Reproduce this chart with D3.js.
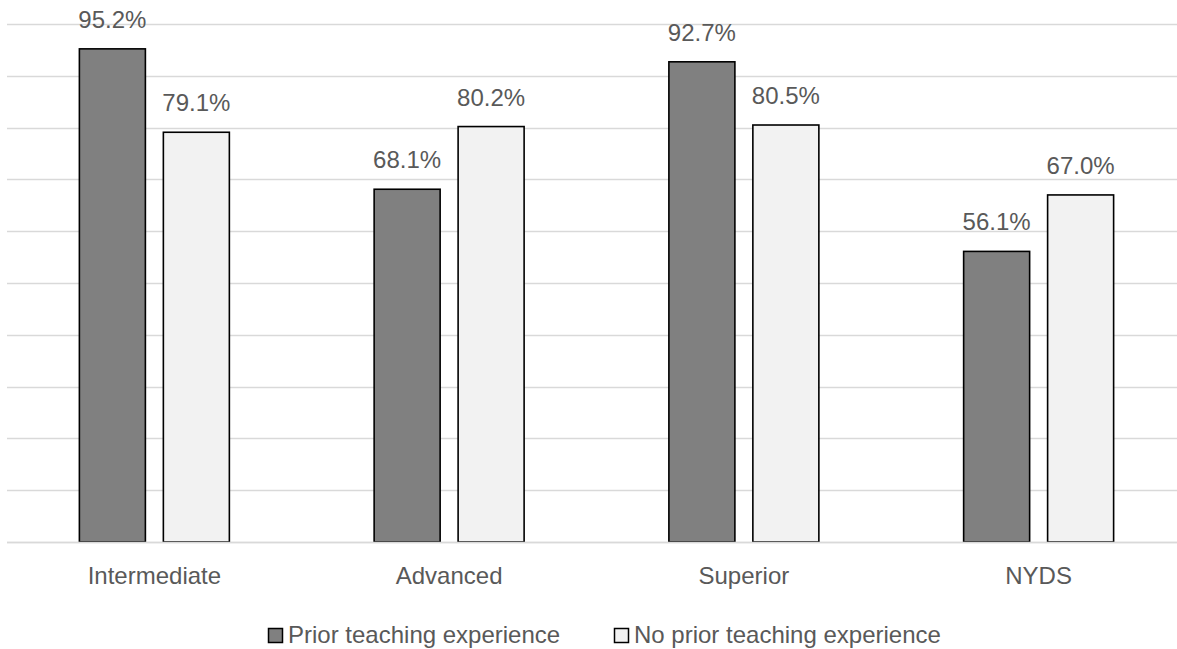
<!DOCTYPE html>
<html>
<head>
<meta charset="utf-8">
<script src="https://cdn.jsdelivr.net/npm/d3@7/dist/d3.min.js"></script>
<style>
  html, body { margin: 0; padding: 0; background: #ffffff; }
  svg { display: block; }
  text { font-family: "Liberation Sans", Arial, sans-serif; fill: #595959; }
</style>
</head>
<body>
<svg id="chart" width="1177" height="649"></svg>
<script>
// Share of teachers by proficiency level, split by prior teaching experience
const categories = ["Intermediate", "Advanced", "Superior", "NYDS"];
const seriesNames = ["Prior teaching experience", "No prior teaching experience"];
const priorExperience = [0.952, 0.681, 0.927, 0.561];
const noPriorExperience = [0.791, 0.802, 0.805, 0.670];
const gridTicks = [0, 0.1, 0.2, 0.3, 0.4, 0.5, 0.6, 0.7, 0.8, 0.9, 1.0];

const seriesValues = [priorExperience, noPriorExperience];
const fills = ["#808080", "#f2f2f2"];

const W = 1177, H = 649;
const plotLeft = 7, plotRight = 1186, plotTop = 24, plotBottom = 542;
const fontSize = "24px";

const svg = d3.select("#chart");

const x0 = d3.scaleBand()
  .domain(categories)
  .range([plotLeft, plotRight])
  .paddingInner(0)
  .paddingOuter(0);

const x1 = d3.scaleBand()
  .domain(seriesNames)
  .range([0, x0.bandwidth()])
  .paddingInner(0.214)
  .paddingOuter(0.862);

const y = d3.scaleLinear()
  .domain([0, 1])
  .range([plotBottom, plotTop]);

// horizontal gridlines
svg.append("g")
  .selectAll("line")
  .data(gridTicks)
  .join("line")
  .attr("x1", plotLeft)
  .attr("x2", W)
  .attr("y1", d => Math.round(y(d)) + 0.5)
  .attr("y2", d => Math.round(y(d)) + 0.5)
  .attr("stroke", "#d9d9d9")
  .attr("stroke-width", 1.5);

// bars
const rows = categories.map((c, i) => seriesNames.map((s, j) => ({
  category: c, series: s, value: seriesValues[j][i], fill: fills[j]
})));

const groups = svg.append("g")
  .selectAll("g")
  .data(rows)
  .join("g")
  .attr("transform", (d, i) => `translate(${x0(categories[i])},0)`);

groups.selectAll("rect")
  .data(d => d)
  .join("rect")
  .attr("x", d => x1(d.series))
  .attr("y", d => y(d.value))
  .attr("width", x1.bandwidth())
  .attr("height", d => y(0) - y(d.value))
  .attr("fill", d => d.fill)
  .attr("stroke", "#000000")
  .attr("stroke-width", 1.6);

// baseline drawn over bar bottoms
svg.append("line")
  .attr("x1", plotLeft).attr("x2", W)
  .attr("y1", y(0) + 0.5).attr("y2", y(0) + 0.5)
  .attr("stroke", "#d9d9d9")
  .attr("stroke-width", 1.5);

// value labels
groups.selectAll("text.value")
  .data(d => d)
  .join("text")
  .attr("class", "value")
  .attr("x", d => x1(d.series) + x1.bandwidth() / 2)
  .attr("y", d => y(d.value) - 21)
  .attr("text-anchor", "middle")
  .style("font-size", fontSize)
  .text(d => (d.value * 100).toFixed(1) + "%");

// category labels
svg.append("g")
  .selectAll("text")
  .data(categories)
  .join("text")
  .attr("x", d => x0(d) + x0.bandwidth() / 2)
  .attr("y", 584)
  .attr("text-anchor", "middle")
  .style("font-size", fontSize)
  .text(d => d);

// legend
const legendItems = [
  { name: seriesNames[0], fill: fills[0], x: 268 },
  { name: seriesNames[1], fill: fills[1], x: 614 }
];
const legend = svg.append("g")
  .selectAll("g")
  .data(legendItems)
  .join("g")
  .attr("transform", d => `translate(${d.x},628)`);

legend.append("rect")
  .attr("x", 0.5).attr("y", 0.5)
  .attr("width", 14).attr("height", 14)
  .attr("fill", d => d.fill)
  .attr("stroke", "#000000")
  .attr("stroke-width", 1.5);

legend.append("text")
  .attr("x", 20)
  .attr("y", 15)
  .style("font-size", fontSize)
  .text(d => d.name);
</script>
</body>
</html>
